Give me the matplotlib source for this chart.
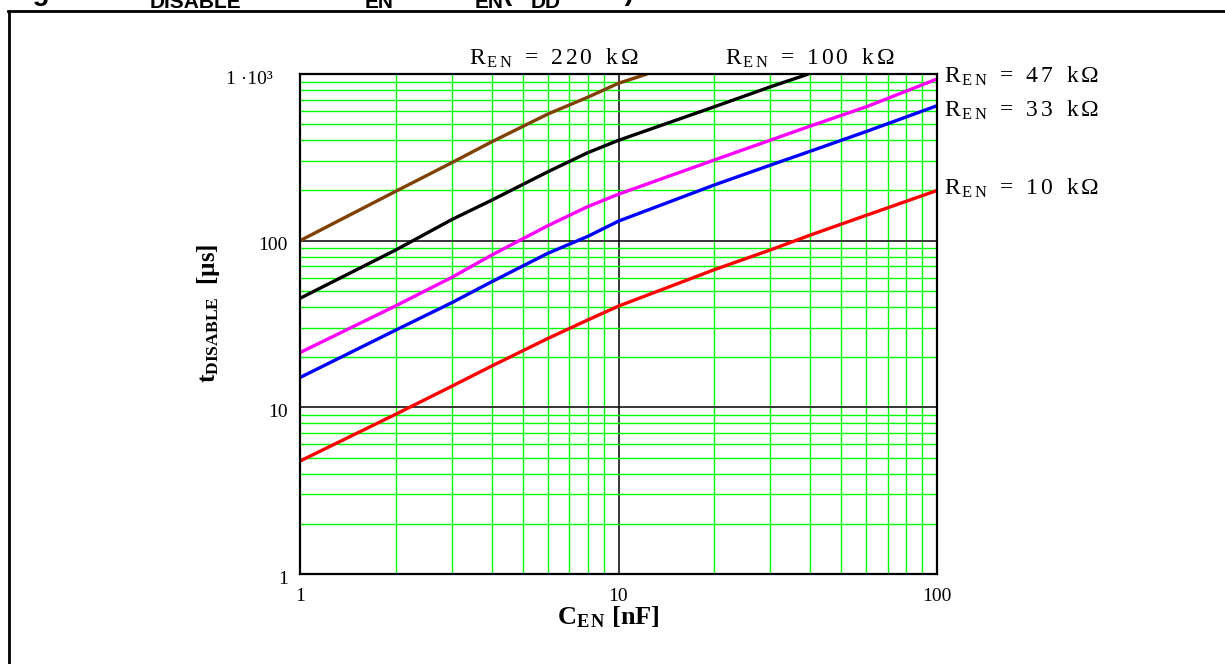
import matplotlib
matplotlib.use('Agg')
import matplotlib.pyplot as plt
from matplotlib.lines import Line2D
from matplotlib.ticker import LogLocator, NullFormatter

plt.rcParams['font.family'] = ['Liberation Serif', 'DejaVu Serif']
plt.rcParams['mathtext.fontset'] = 'custom'
plt.rcParams['mathtext.rm'] = 'Liberation Serif'
plt.rcParams['mathtext.it'] = 'Liberation Serif:italic'
plt.rcParams['mathtext.bf'] = 'Liberation Serif:bold'

# дані
c_en = [1, 2, 3, 4, 6, 8, 10, 20, 30, 40, 60, 100]
t_10k = [4.76, 9.1, 13.4, 17.7, 25.9, 33.4, 40.5, 67, 88, 108, 142, 200]
t_33k = [15.1, 29.1, 42.5, 56.7, 84, 106, 131, 216, 284, 344, 452, 645]
t_47k = [21.3, 40.7, 60.3, 82, 123, 160, 190, 305, 401, 487, 636, 933]
c_100k = [1, 2, 3, 4, 6, 8, 10, 20, 30, 39.5]
t_100k = [45.1, 88, 134, 175, 259, 337, 400, 636, 838, 1000]
c_220k = [1, 2, 3, 4, 6, 8, 10, 12.3]
t_220k = [100, 198, 294, 392, 575, 725, 880, 1000]

x_ticks = [1, 10, 100]
x_tick_labels = ['1', '10', '100']
y_ticks = [1, 10, 100, 1000]
y_tick_labels = ['1', '10', '100', '1 ·10³']

curves = [
    ('220', c_220k, t_220k, '#804000'),
    ('100', c_100k, t_100k, 'black'),
    ('47', c_en, t_47k, '#ff00ff'),
    ('33', c_en, t_33k, '#0000ff'),
    ('10', c_en, t_10k, '#ff0000'),
]
# позиції підписів (пікселі: ліва межа, базова лінія)
label_pos = {'220': (469, 65), '100': (725, 65), '47': (944, 83),
             '33': (944, 117), '10': (944, 195)}

# підпис рисунка (обрізаний зверху): текст, підрядковий?, x, вирівнювання
caption_parts = [
    ('Figure 7.  t', False, 8, 'left'),
    ('DISABLE', True, 150, 'left'),
    ('versus C', False, 364, 'right'),
    ('EN', True, 365, 'left'),
    ('and R', False, 474, 'right'),
    ('EN', True, 475, 'left'),
    ('(V', False, 530, 'right'),
    ('DD', True, 531, 'left'),
    ('= 5 V)', False, 634, 'right'),
]

W, H = 1225, 664


def px(x, y):
    return x / W, 1 - y / H


def r_label(value):
    digits = r'\,'.join(value)
    return (r'$\mathrm{R}_{\,\mathrm{E\,N}}\;\;=\;\;\mathrm{' + digits +
            r'}\;\;\;\mathrm{k}\,\Omega$')


fig = plt.figure(figsize=(W / 100, H / 100), dpi=100)
ax = fig.add_axes([300 / W, 90 / H, 637 / W, 500 / H])
ax.set_xscale('log')
ax.set_yscale('log')
ax.set_xlim(1, 100)
ax.set_ylim(1, 1000)

ax.xaxis.set_minor_locator(LogLocator(base=10, subs=range(2, 10)))
ax.yaxis.set_minor_locator(LogLocator(base=10, subs=range(2, 10)))
ax.xaxis.set_minor_formatter(NullFormatter())
ax.yaxis.set_minor_formatter(NullFormatter())
ax.set_xticks(x_ticks, x_tick_labels)
ax.set_yticks(y_ticks, [''] * len(y_ticks))
ax.grid(which='minor', color='#00ff00', lw=1.0)
ax.grid(which='major', color='black', lw=1.1)
ax.tick_params(which='both', length=0)
ax.tick_params(axis='x', labelsize=14, pad=10)
for s in ax.spines.values():
    s.set_linewidth(1.6)

for i, (v, lab) in enumerate(zip(y_ticks, y_tick_labels)):
    dx = -15 if i == len(y_ticks) - 1 else 0
    ax.annotate(lab, xy=(0, v), xycoords=('axes fraction', 'data'),
                xytext=(-12 + dx, -5), textcoords='offset pixels',
                ha='right', va='center', fontsize=14)

for name, cx, ty, col in curves:
    ax.plot(cx, ty, color=col, lw=2.4, solid_capstyle='butt')
    lx, ly = label_pos[name]
    fig.text(*px(lx, ly), r_label(name), fontsize=17, va='baseline', ha='left')

fig.text(*px(209, 313), r'$\mathbf{t}_{\mathbf{DISABLE}}$  [µs]', rotation=90,
         fontsize=18, fontweight='bold', ha='center', va='center')
fig.text(*px(608, 617), r'$\mathbf{C}_{\mathbf{E\,N}}$ [nF]',
         fontsize=19, fontweight='bold', ha='center', va='center')

for text, is_sub, x, ha in caption_parts:
    fig.text(*px(x, 8 if is_sub else 0.5), text, fontsize=15 if is_sub else 20,
             fontweight='bold', family='Liberation Sans', va='baseline', ha=ha)

# рамка
fig.add_artist(Line2D([8 / W, 1], [1 - 10.5 / H] * 2, transform=fig.transFigure,
                      color='black', lw=2))
fig.add_artist(Line2D([9 / W] * 2, [0, 1 - 10.5 / H], transform=fig.transFigure,
                      color='black', lw=2))

fig.savefig('out.png', dpi=100)
